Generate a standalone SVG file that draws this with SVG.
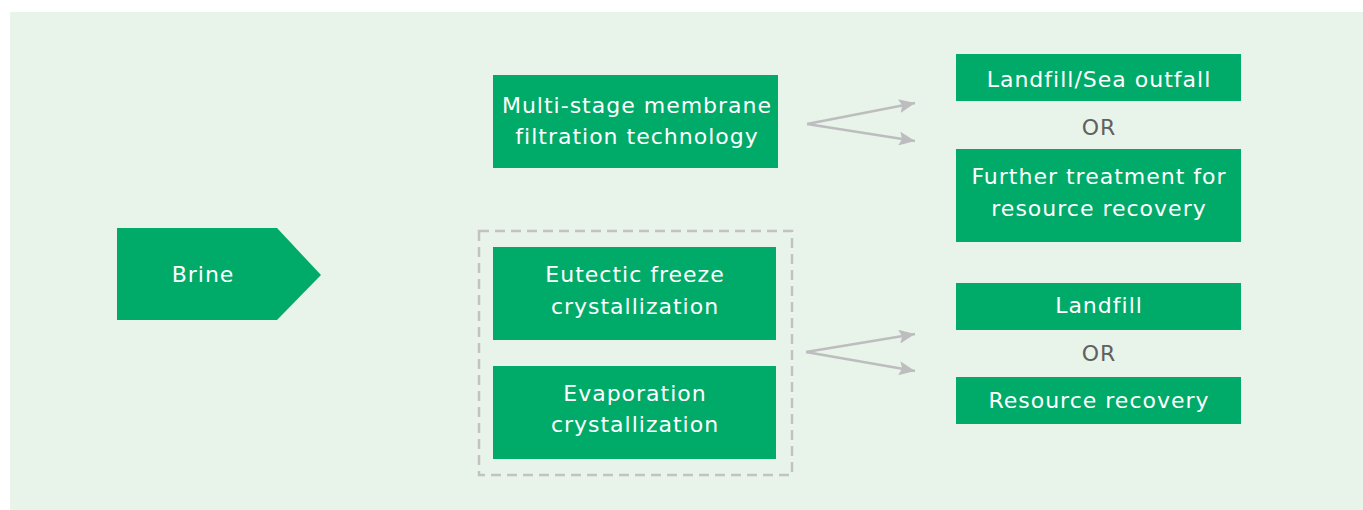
<svg xmlns="http://www.w3.org/2000/svg" width="1363" height="510" viewBox="0 0 1363 510">
<defs>
<marker id="ah" viewBox="0 0 16 14" refX="16" refY="7" markerWidth="16" markerHeight="14" markerUnits="userSpaceOnUse" orient="auto">
<path d="M0,0 L16,7 L0,14 L3,7 Z" fill="#bdbdbf"/>
</marker>
<style>
.box{fill:#00ab69}
.t{font-family:"DejaVu Sans","Liberation Sans",sans-serif;font-size:22px;fill:#ffffff;text-anchor:middle;letter-spacing:1px}
.or{font-family:"DejaVu Sans","Liberation Sans",sans-serif;font-size:22px;fill:#606060;text-anchor:middle;letter-spacing:1px}
.c{fill:none;stroke:#bdbdbf;stroke-width:2.5}
</style>
</defs>
<rect x="0" y="0" width="1363" height="510" fill="#ffffff"/>
<rect x="10" y="12" width="1353" height="498" fill="#e8f4ea"/>
<g id="brine">
<polygon class="box" points="117,228 277,228 321,275 277,320 117,320"/>
<text class="t" x="203" y="282">Brine</text>
</g>
<g id="membrane">
<rect class="box" x="493" y="75" width="285" height="93"/>
<text class="t" x="637" y="113">Multi-stage membrane</text>
<text class="t" x="637" y="144">filtration technology</text>
</g>
<g id="crystal-group">
<rect x="479" y="231" width="313" height="244" fill="none" stroke="#c2c2c2" stroke-width="2.5" stroke-dasharray="10,6"/>
</g>
<g id="eutectic">
<rect class="box" x="493" y="247" width="283" height="93"/>
<text class="t" x="635" y="282">Eutectic freeze</text>
<text class="t" x="635" y="314">crystallization</text>
</g>
<g id="evaporation">
<rect class="box" x="493" y="366" width="283" height="93"/>
<text class="t" x="635" y="401">Evaporation</text>
<text class="t" x="635" y="432">crystallization</text>
</g>
<g id="landfill-sea">
<rect class="box" x="956" y="54" width="285" height="47"/>
<text class="t" x="1099" y="87">Landfill/Sea outfall</text>
</g>
<g id="or1"><text class="or" x="1099" y="135">OR</text></g>
<g id="further">
<rect class="box" x="956" y="149" width="285" height="93"/>
<text class="t" x="1099" y="184">Further treatment for</text>
<text class="t" x="1099" y="216">resource recovery</text>
</g>
<g id="landfill">
<rect class="box" x="956" y="283" width="285" height="47"/>
<text class="t" x="1099" y="313">Landfill</text>
</g>
<g id="or2"><text class="or" x="1099" y="361">OR</text></g>
<g id="resource">
<rect class="box" x="956" y="377" width="285" height="47"/>
<text class="t" x="1099" y="408">Resource recovery</text>
</g>
<g id="connectors">
<path class="c" d="M807,124 L915,103" marker-end="url(#ah)"/>
<path class="c" d="M807,124 L915,141" marker-end="url(#ah)"/>
<path class="c" d="M806,352 L915,334" marker-end="url(#ah)"/>
<path class="c" d="M806,352 L915,371" marker-end="url(#ah)"/>
</g>
</svg>
